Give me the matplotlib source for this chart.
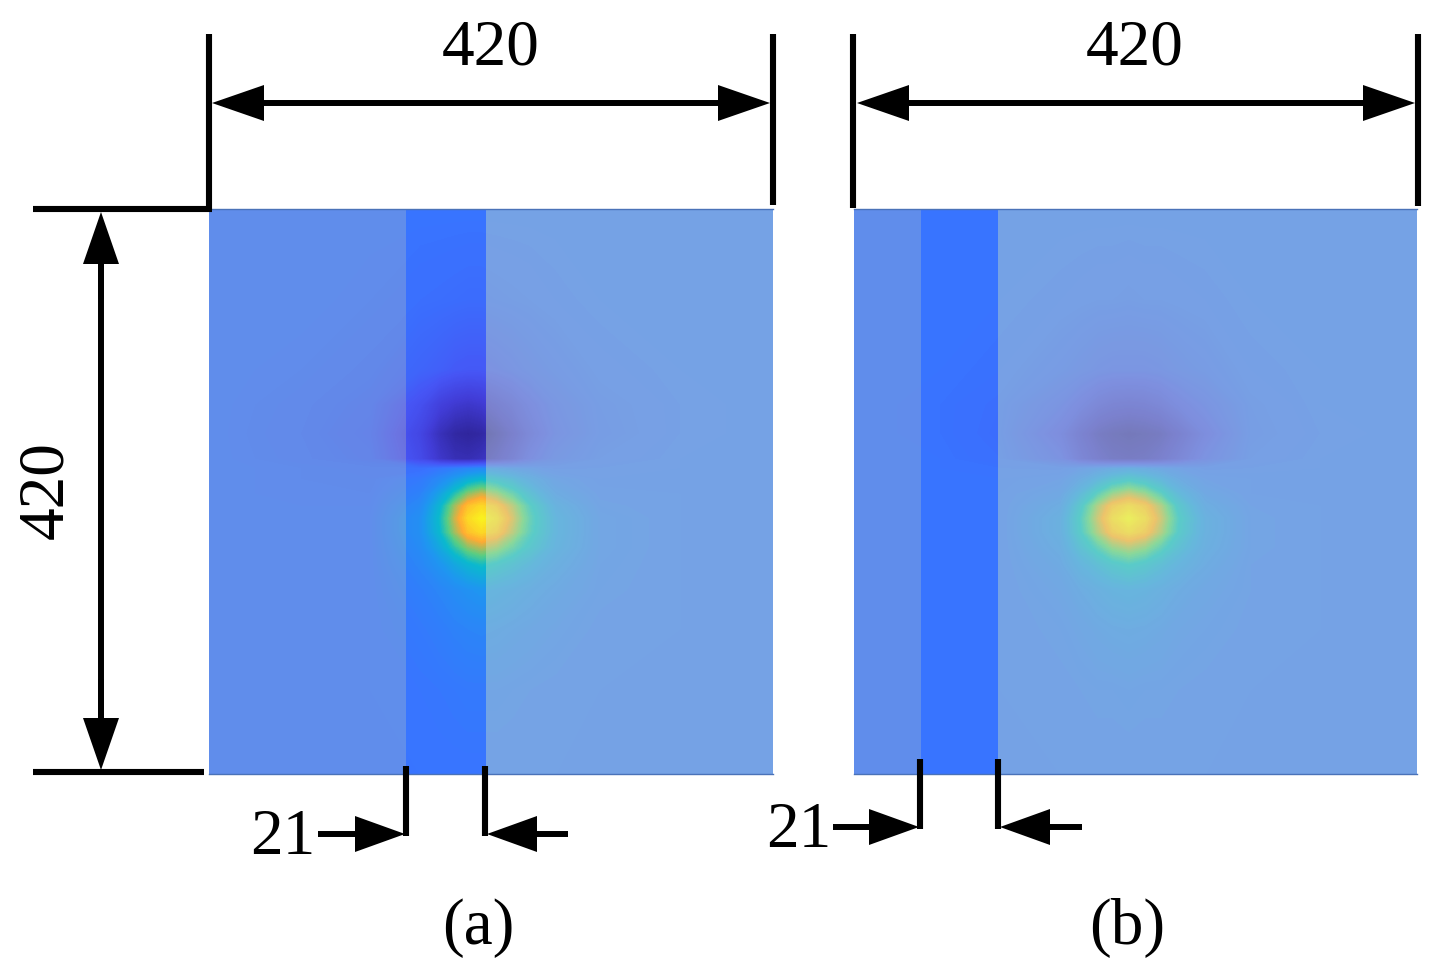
import numpy as np
import matplotlib
matplotlib.use('Agg')
import matplotlib.pyplot as plt
from matplotlib.colors import LinearSegmentedColormap
from matplotlib.patches import Rectangle

plt.rcParams['font.family'] = ['Liberation Serif', 'DejaVu Serif']

W, H = 1440, 970

# field samples, both panels share the 420 x 420 domain (y measured from the top)
field_y = [0, 67, 119, 145, 167, 186, 193, 201, 212, 221, 230, 240, 251, 264, 283, 312, 357, 420]

field_x_a = [0, 68, 120, 157, 172, 183, 193, 203, 214, 226, 239, 258, 291, 351, 420]
field_a = [
    [0, 0, 0, 0, 0, 0, 0, 0, 0, 0, 0, 0, 0, 0, 0],
    [0, 0, -.02, -.05, -.06, -.07, -.08, -.08, -.07, -.06, -.05, -.03, -.01, 0, 0],
    [0, -.02, -.06, -.15, -.2, -.25, -.27, -.27, -.24, -.2, -.15, -.1, -.04, -.01, 0],
    [0, -.04, -.1, -.36, -.55, -.64, -.68, -.64, -.55, -.45, -.32, -.18, -.07, -.02, 0],
    [0, -.05, -.13, -.48, -.78, -.92, -.96, -.92, -.78, -.62, -.42, -.22, -.08, -.02, 0],
    [0, -.04, -.1, -.42, -.68, -.8, -.82, -.76, -.65, -.5, -.3, -.14, -.05, -.01, 0],
    [0, -.02, -.04, -.05, .02, .08, .13, .17, .12, .07, .03, -.03, -.02, -.01, 0],
    [0, -.02, -.03, .04, .16, .28, .38, .43, .38, .3, .18, .05, -.01, 0, 0],
    [0, -.02, -.02, .1, .32, .5, .66, .74, .66, .52, .34, .12, .01, 0, 0],
    [0, -.01, -.01, .16, .42, .68, .86, .93, .86, .7, .46, .2, .03, 0, 0],
    [0, -.01, 0, .2, .46, .73, .93, 1, .94, .75, .5, .24, .05, 0, 0],
    [0, -.01, 0, .2, .44, .68, .86, .93, .87, .7, .48, .24, .05, 0, 0],
    [0, -.01, 0, .17, .35, .52, .66, .72, .67, .54, .4, .22, .05, 0, 0],
    [0, 0, 0, .13, .24, .34, .42, .47, .42, .35, .27, .16, .04, 0, 0],
    [0, 0, 0, .08, .13, .18, .22, .25, .22, .19, .15, .1, .03, 0, 0],
    [0, 0, 0, .04, .07, .1, .12, .13, .12, .1, .08, .05, .01, 0, 0],
    [0, 0, 0, .01, .02, .03, .04, .04, .04, .03, .02, .01, 0, 0, 0],
    [0, 0, 0, 0, 0, 0, 0, 0, 0, 0, 0, 0, 0, 0, 0],
]

field_x_b = [0, 64, 109, 154, 169, 182, 193, 205, 217, 229, 242, 262, 296, 348, 420]
field_b = [
    [0, 0, 0, 0, 0, 0, 0, 0, 0, 0, 0, 0, 0, 0, 0],
    [0, 0, -.01, -.03, -.04, -.05, -.05, -.06, -.05, -.05, -.04, -.03, -.01, 0, 0],
    [0, -.01, -.03, -.1, -.14, -.18, -.2, -.2, -.2, -.18, -.14, -.1, -.03, -.01, 0],
    [0, -.02, -.06, -.22, -.33, -.44, -.5, -.52, -.5, -.44, -.33, -.22, -.06, -.01, 0],
    [0, -.02, -.07, -.34, -.55, -.7, -.76, -.8, -.77, -.72, -.58, -.34, -.07, -.02, 0],
    [0, -.01, -.05, -.24, -.46, -.6, -.68, -.7, -.68, -.6, -.46, -.24, -.05, -.01, 0],
    [0, -.01, -.02, -.03, .02, .07, .12, .16, .12, .07, .02, -.03, -.02, -.01, 0],
    [0, -.01, -.01, .02, .12, .25, .35, .41, .35, .25, .12, .02, 0, 0, 0],
    [0, 0, 0, .07, .28, .48, .64, .72, .64, .48, .28, .08, 0, 0, 0],
    [0, 0, 0, .13, .4, .68, .85, .92, .85, .68, .4, .14, .02, 0, 0],
    [0, 0, 0, .17, .45, .73, .92, 1, .92, .73, .45, .18, .03, 0, 0],
    [0, 0, 0, .17, .43, .68, .85, .92, .85, .68, .43, .18, .03, 0, 0],
    [0, 0, 0, .14, .34, .5, .64, .7, .64, .5, .34, .16, .03, 0, 0],
    [0, 0, 0, .1, .23, .32, .4, .45, .4, .32, .23, .12, .02, 0, 0],
    [0, 0, 0, .06, .12, .17, .21, .23, .21, .17, .12, .07, .02, 0, 0],
    [0, 0, 0, .03, .06, .09, .11, .12, .11, .09, .06, .04, .01, 0, 0],
    [0, 0, 0, .01, .02, .03, .03, .04, .03, .03, .02, .01, 0, 0, 0],
    [0, 0, 0, 0, 0, 0, 0, 0, 0, 0, 0, 0, 0, 0, 0],
]

slab_a = (147, 206)
slab_b = (50, 107.5)

panel_size = 420
dim_label = '420'
gap_label = '21'

cmap = LinearSegmentedColormap.from_list('field', [
    (0.00, (45/255, 35/255, 150/255)),
    (0.20, (65/255, 60/255, 215/255)),
    (0.35, (70/255, 85/255, 245/255)),
    (0.50, (56/255, 116/255, 255/255)),
    (0.625, (30/255, 150/255, 240/255)),
    (0.725, (10/255, 185/255, 205/255)),
    (0.80, (90/255, 205/255, 130/255)),
    (0.90, (255/255, 170/255, 50/255)),
    (1.00, (250/255, 240/255, 30/255)),
])
levels = np.linspace(-1.02, 1.02, 205)


def draw_panel(px_left, px_right, field_x, field, slab):
    ax = fig.add_axes([px_left / W, 1 - 775 / H, (px_right - px_left) / W, (775 - 210) / H])
    ax.contourf(field_x, field_y, field, levels=levels, cmap=cmap, vmin=-1, vmax=1)
    # the materials either side of the slab wash out the field
    ax.add_patch(Rectangle((0, 0), slab[0], panel_size, color=(241/255, 233/255, 165/255),
                           alpha=0.22, lw=0))
    ax.add_patch(Rectangle((slab[1], 0), panel_size - slab[1], panel_size,
                           color=(211/255, 233/255, 192/255), alpha=0.4, lw=0))
    ax.set_xlim(0, panel_size)
    ax.set_ylim(panel_size, 0)
    ax.set_xticks([])
    ax.set_yticks([])
    for side in ['left', 'right']:
        ax.spines[side].set_visible(False)
    for side in ['top', 'bottom']:
        ax.spines[side].set_color('#4a72b8')
        ax.spines[side].set_linewidth(1.0)


def seg(x0, y0, x1, y1, lw=4.4):
    over.plot([x0, x1], [y0, y1], color='black', lw=lw, solid_capstyle='butt')


def arrow(x0, y0, x1, y1, head=52, half=18):
    # line from (x0, y0) with a solid head ending at (x1, y1)
    d = np.array([x1 - x0, y1 - y0], dtype=float)
    d /= np.hypot(*d)
    n = np.array([-d[1], d[0]])
    tip = np.array([x1, y1], dtype=float)
    base = tip - d * head
    over.plot([x0, base[0]], [y0, base[1]], color='black', lw=4.3, solid_capstyle='butt')
    tri = np.array([tip, base + n * half, base - n * half])
    over.fill(tri[:, 0], tri[:, 1], color='black', lw=0)


fig = plt.figure(figsize=(W / 100, H / 100), dpi=100)
fig.patch.set_facecolor('white')

draw_panel(209, 773, field_x_a, field_a, slab_a)
draw_panel(854, 1417, field_x_b, field_b, slab_b)

over = fig.add_axes([0, 0, 1, 1], facecolor='none')
over.set_xlim(0, W)
over.set_ylim(H, 0)
over.axis('off')

# top dimensions
for x, y_end in [(209, 211), (773, 206), (853, 209), (1418, 207)]:
    seg(x, 35, x, y_end)
for left, right in [(212, 770), (857, 1415)]:
    arrow(left + 52, 104, left, 104)
    arrow(right - 52, 104, right, 104)
    seg(left + 52, 104, right - 52, 104, lw=4.3)

# left dimension
seg(33, 210, 212, 210)
seg(33, 773, 204, 773)
arrow(101, 300, 101, 213, head=52)
arrow(101, 680, 101, 771, head=52)
seg(101, 265, 101, 719, lw=4.3)

# slab width marks
for x_l, x_r, y_top, y_a, x_in, x_out in [(406, 485, 767, 835, 318, 568),
                                          (920, 998, 760, 828, 833, 1082)]:
    seg(x_l, y_top, x_l, y_a + 2)
    seg(x_r, y_top, x_r, y_a + 2)
    arrow(x_in, y_a, x_l - 1, y_a, head=50)
    arrow(x_out, y_a, x_r + 2, y_a, head=50)

text_kw = dict(color='black', ha='center', va='center', fontsize=47)
over.text(491, 49, dim_label, **text_kw)
over.text(1135, 49, dim_label, **text_kw)
over.text(47, 490, dim_label, rotation=90, **text_kw)
over.text(283, 838, gap_label, **text_kw)
over.text(799, 831, gap_label, **text_kw)
over.text(478, 928, '(a)', **text_kw)
over.text(1127, 928, '(b)', **text_kw)

fig.savefig('out.png', dpi=100)
